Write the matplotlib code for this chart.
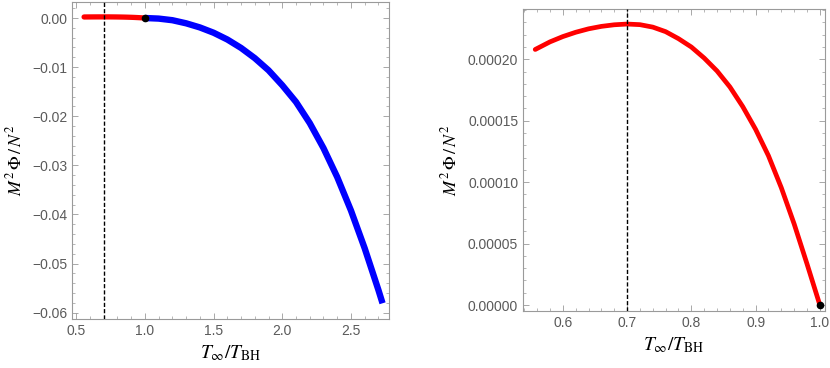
import matplotlib
matplotlib.use("Agg")
import matplotlib.pyplot as plt
from matplotlib.ticker import MultipleLocator, FormatStrFormatter, FuncFormatter

# ---- data ----
# red branch (T_inf/T_BH <= 1)
red_T = [0.557, 0.58, 0.60, 0.62, 0.64, 0.66, 0.68, 0.70, 0.72, 0.74, 0.76, 0.78,
         0.80, 0.82, 0.84, 0.86, 0.88, 0.90, 0.92, 0.94, 0.96, 0.98, 1.00]
red_Phi = [2.080e-4, 2.142e-4, 2.185e-4, 2.220e-4, 2.248e-4, 2.268e-4, 2.281e-4,
           2.287e-4, 2.282e-4, 2.262e-4, 2.225e-4, 2.168e-4, 2.100e-4, 2.010e-4,
           1.905e-4, 1.775e-4, 1.615e-4, 1.430e-4, 1.215e-4, 0.955e-4, 0.660e-4,
           0.335e-4, 0.0]
# blue branch (T_inf/T_BH >= 1)
blue_T = [1.0, 1.1, 1.2, 1.3, 1.4, 1.5, 1.6, 1.7, 1.8, 1.9, 2.0, 2.1, 2.2, 2.3,
          2.4, 2.5, 2.6, 2.7, 2.73]
blue_Phi = [0.0, -0.00012, -0.00045, -0.00108, -0.00192, -0.00300, -0.00438,
            -0.00610, -0.00818, -0.01065, -0.0137, -0.0171, -0.0214, -0.0265,
            -0.0324, -0.0392, -0.0469, -0.0554, -0.0581]
T_min_line = 0.7
end_point = (1.0, 0.0)

plt.rcParams['font.family'] = ['Liberation Sans', 'DejaVu Sans']
plt.rcParams['mathtext.fontset'] = 'stix'

fig = plt.figure(figsize=(8.3, 3.68), dpi=100)
ax1 = fig.add_axes([72/830, (368-319)/368, 317/830, 317/368])
ax2 = fig.add_axes([523/830, (368-310.7)/368, 302/830, 301.4/368])

tickcol = '#5a5a5a'

def style(ax):
    for s in ax.spines.values():
        s.set_color('#9a9a9a')
        s.set_linewidth(0.8)
    ax.tick_params(which='both', direction='in', top=True, right=True,
                   colors='#9a9a9a', labelcolor=tickcol, labelsize=10)
    ax.tick_params(which='major', length=4, width=0.6)
    ax.tick_params(which='minor', length=2, width=0.5)

def minus_fmt(fmt):
    return FuncFormatter(lambda v, p: (fmt % v).replace('-', '\u2212') if abs(v) > 1e-12 else fmt % 0)

# left panel
ax1.plot(blue_T, blue_Phi, color='#0000ff', lw=4.6, solid_capstyle='butt',
         solid_joinstyle='round', zorder=2)
ax1.plot(red_T, red_Phi, color='#ff0000', lw=3.8, solid_capstyle='round', zorder=3)
ax1.axvline(T_min_line, color='black', ls=(0, (3, 1.5)), lw=1.0, zorder=4)
ax1.plot([end_point[0]], [end_point[1]], 'o', color='black', ms=4.5, zorder=5)
ax1.set_xlim(0.469, 2.777)
ax1.set_ylim(-0.0613, 0.00326)
ax1.xaxis.set_major_locator(MultipleLocator(0.5))
ax1.xaxis.set_minor_locator(MultipleLocator(0.1))
ax1.yaxis.set_major_locator(MultipleLocator(0.01))
ax1.yaxis.set_minor_locator(MultipleLocator(0.002))
ax1.xaxis.set_major_formatter(FormatStrFormatter('%.1f'))
ax1.yaxis.set_major_formatter(minus_fmt('%.2f'))
style(ax1)
ax1.set_xlabel(r'$T_{\infty}/T_{\mathrm{BH}}$', fontsize=14, labelpad=4)
ax1.set_ylabel(r'$M^2\,\Phi\,/\,N^2$', fontsize=13, labelpad=5)

# right panel
ax2.plot(red_T, red_Phi, color='#ff0000', lw=3.4, solid_capstyle='round',
         solid_joinstyle='round', zorder=2)
ax2.axvline(T_min_line, color='black', ls=(0, (3, 1.5)), lw=1.0, zorder=4)
ax2.plot([end_point[0]], [end_point[1]], 'o', color='black', ms=4.5, zorder=5)
ax2.set_xlim(0.538, 1.008)
ax2.set_ylim(-0.0000046, 0.0002407)
ax2.xaxis.set_major_locator(MultipleLocator(0.1))
ax2.xaxis.set_minor_locator(MultipleLocator(0.02))
ax2.yaxis.set_major_locator(MultipleLocator(0.00005))
ax2.yaxis.set_minor_locator(MultipleLocator(0.00001))
ax2.xaxis.set_major_formatter(FormatStrFormatter('%.1f'))
ax2.yaxis.set_major_formatter(FormatStrFormatter('%.5f'))
style(ax2)
ax2.set_xlabel(r'$T_{\infty}/T_{\mathrm{BH}}$', fontsize=14, labelpad=4)
ax2.set_ylabel(r'$M^2\,\Phi\,/\,N^2$', fontsize=13, labelpad=5)

fig.savefig('out.png', dpi=100)
